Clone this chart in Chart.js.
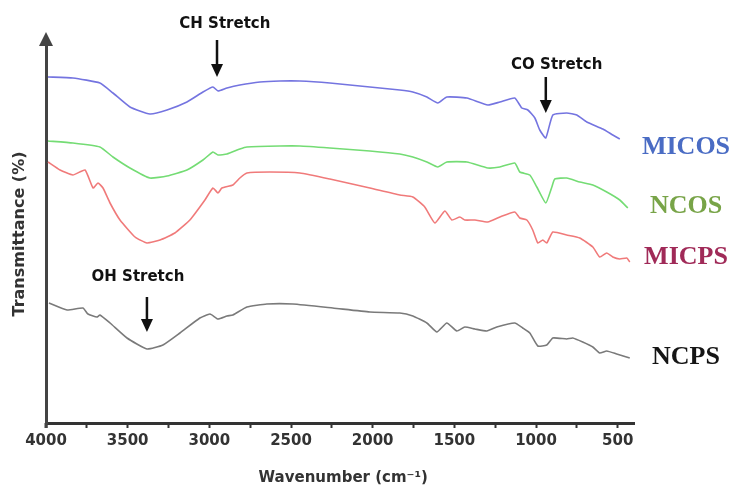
<!DOCTYPE html>
<html>
<head>
<meta charset="utf-8">
<script src="https://cdn.jsdelivr.net/npm/chart.js@4"></script>
<style>
  html, body { margin: 0; padding: 0; background: #fff; }
  #wrap { width: 738px; height: 487px; position: relative; }
</style>
</head>
<body>
<div id="wrap"><canvas id="c"></canvas></div>
<script>
// ---- data: [wavenumber (cm-1), transmittance (arbitrary offset units)] ----
const MICOS = [[3988,346],[3835,345],[3670,340],[3590,330],[3486,316],[3364,309],[3259,313],[3137,321],[3039,331],[2978,336],[2947,332],[2892,335],[2813,338],[2690,341],[2568,342],[2446,342],[2262,340],[2017,336],[1834,333],[1754,331],[1668,326],[1601,320],[1546,326],[1423,325],[1295,318],[1221,321],[1130,325],[1087,315],[1050,313],[1007,305],[977,293],[940,285],[897,308],[812,310],[750,308],[689,301],[591,294],[530,288],[487,284]];
const NCOS = [[3988,282],[3835,280],[3670,276],[3590,266],[3486,255],[3364,245],[3259,247],[3137,253],[3039,263],[2978,271],[2947,268],[2892,269],[2813,274],[2770,276],[2568,277],[2446,277],[2262,275],[2017,272],[1834,269],[1754,266],[1668,261],[1601,256],[1546,261],[1423,261],[1295,255],[1221,256],[1130,260],[1099,251],[1038,248],[995,236],[940,220],[903,236],[885,244],[812,245],[732,241],[652,238],[567,231],[487,223],[438,215]];
const MICPS = [[3988,261],[3914,253],[3835,248],[3761,253],[3712,235],[3682,240],[3651,235],[3608,220],[3547,203],[3455,186],[3382,180],[3302,183],[3211,190],[3119,203],[3027,223],[2978,235],[2947,230],[2923,235],[2856,238],[2813,245],[2770,250],[2629,251],[2446,250],[2262,244],[2017,235],[1834,228],[1754,226],[1681,216],[1619,200],[1558,212],[1515,203],[1466,206],[1436,203],[1374,203],[1295,201],[1221,206],[1130,211],[1099,205],[1056,203],[1020,193],[989,180],[958,183],[934,180],[897,191],[812,188],[732,185],[652,176],[610,166],[567,170],[530,166],[487,164],[444,165],[426,161]];
const NCPS = [[3982,120],[3871,113],[3774,115],[3743,109],[3688,106],[3670,108],[3608,100],[3504,85],[3382,74],[3284,78],[3180,90],[3058,105],[2996,109],[2947,104],[2892,107],[2856,108],[2770,116],[2648,119],[2488,119],[2244,115],[2017,111],[1834,110],[1754,107],[1668,100],[1607,91],[1546,100],[1485,92],[1436,96],[1374,94],[1301,92],[1240,96],[1130,100],[1081,95],[1038,90],[989,77],[934,78],[897,85],[812,84],[775,85],[714,81],[652,76],[610,70],[567,72],[506,69],[426,65]];

const seriesNames = ['MICOS', 'NCOS', 'MICPS', 'NCPS'];
const seriesData = [MICOS, NCOS, MICPS, NCPS];
const seriesLabelLevels = [276, 217, 166, 66];   // y value where each name sits
const majorTicks = [4000, 3500, 3000, 2500, 2000, 1500, 1000, 500];
const minorTicks = [3750, 3250, 2750, 2250, 1750, 1250, 750];
const xTitle = 'Wavenumber (cm\u207B\u00B9)';
const yTitle = 'Transmittance (%)';
// annotations: text, arrow wavenumber, text centre wavenumber, text level, arrow top, arrow bottom
const annotations = [
  { text: 'CH Stretch', arrowWn: 2953, textWn: 2905, textLevel: 399, top: 383, bottom: 346 },
  { text: 'CO Stretch', arrowWn: 940,  textWn: 873,  textLevel: 358, top: 346, bottom: 310 },
  { text: 'OH Stretch', arrowWn: 3382, textWn: 3437, textLevel: 146, top: 126, bottom: 91 }
];

const lineColors = ['#7474e0', '#74dc74', '#f07a7a', '#7a7a7a'];
const labelColors = ['#4a6cc4', '#78a448', '#a02a58', '#151515'];

const overlay = {
  id: 'overlay',
  afterDraw(chart) {
    const ctx = chart.ctx;
    const xs = chart.scales.x, ys = chart.scales.y;
    const area = chart.chartArea;
    ctx.save();
    // y-axis arrow head and small extension below x axis
    ctx.fillStyle = '#444';
    ctx.beginPath();
    ctx.moveTo(area.left, area.top - 13);
    ctx.lineTo(area.left - 7, area.top + 1);
    ctx.lineTo(area.left + 7, area.top + 1);
    ctx.closePath();
    ctx.fill();
    ctx.fillRect(area.left - 1.5, area.bottom, 3, 5);
    // annotations
    ctx.font = 'bold 15px "DejaVu Sans"';
    ctx.textAlign = 'center';
    ctx.textBaseline = 'middle';
    annotations.forEach(a => {
      ctx.fillStyle = '#111';
      ctx.fillText(a.text, xs.getPixelForValue(a.textWn), ys.getPixelForValue(a.textLevel));
      const ax = xs.getPixelForValue(a.arrowWn);
      const y1 = ys.getPixelForValue(a.top), y2 = ys.getPixelForValue(a.bottom);
      ctx.strokeStyle = '#111';
      ctx.lineWidth = 2.5;
      ctx.beginPath();
      ctx.moveTo(ax, y1);
      ctx.lineTo(ax, y2 - 10);
      ctx.stroke();
      ctx.beginPath();
      ctx.moveTo(ax, y2);
      ctx.lineTo(ax - 6, y2 - 13);
      ctx.lineTo(ax + 6, y2 - 13);
      ctx.closePath();
      ctx.fill();
    });
    // series names
    ctx.font = 'bold 26px "Liberation Serif"';
    seriesNames.forEach((n, i) => {
      ctx.fillStyle = labelColors[i];
      ctx.fillText(n, area.right + 52, ys.getPixelForValue(seriesLabelLevels[i]));
    });
    // x title
    ctx.font = 'bold 15px "DejaVu Sans"';
    ctx.fillStyle = '#333';
    ctx.fillText(xTitle, xs.getPixelForValue(2180), area.bottom + 55);
    ctx.restore();
  }
};

new Chart(document.getElementById('c'), {
  type: 'line',
  data: {
    datasets: seriesData.map((d, i) => ({
      label: seriesNames[i],
      data: d.map(p => ({ x: p[0], y: p[1] })),
      borderColor: lineColors[i],
      borderWidth: 1.6,
      pointRadius: 0,
      tension: 0.15,
      fill: false
    }))
  },
  options: {
    responsive: true,
    maintainAspectRatio: false,
    animation: false,
    layout: { padding: { top: 45, right: 104, bottom: 0, left: 0 } },
    plugins: { legend: { display: false }, tooltip: { enabled: false } },
    scales: {
      x: {
        type: 'linear',
        reverse: true,
        min: 400,
        max: 4000,
        afterFit(s) { s.height = 64; },
        afterBuildTicks(s) {
          s.ticks = majorTicks.concat(minorTicks).sort((a, b) => b - a).map(v => ({ value: v }));
        },
        grid: { display: true, drawOnChartArea: false, drawTicks: true, tickLength: 5, tickWidth: 2, tickColor: '#333' },
        border: { display: true, color: '#333', width: 3 },
        ticks: {
          autoSkip: false,
          maxRotation: 0,
          padding: 4,
          color: '#333',
          font: { family: 'DejaVu Sans', weight: 'bold', size: 15 },
          callback: v => majorTicks.includes(v) ? String(v) : ''
        }
      },
      y: {
        min: 0,
        max: 378,
        afterFit(s) { s.width = 46; },
        grid: { display: false },
        border: { display: true, color: '#444', width: 3 },
        ticks: { display: false },
        title: {
          display: true,
          text: yTitle,
          color: '#333',
          font: { family: 'DejaVu Sans', weight: 'bold', size: 16 },
          padding: { top: 10, bottom: 0 }
        }
      }
    }
  },
  plugins: [overlay]
});
</script>
</body>
</html>
